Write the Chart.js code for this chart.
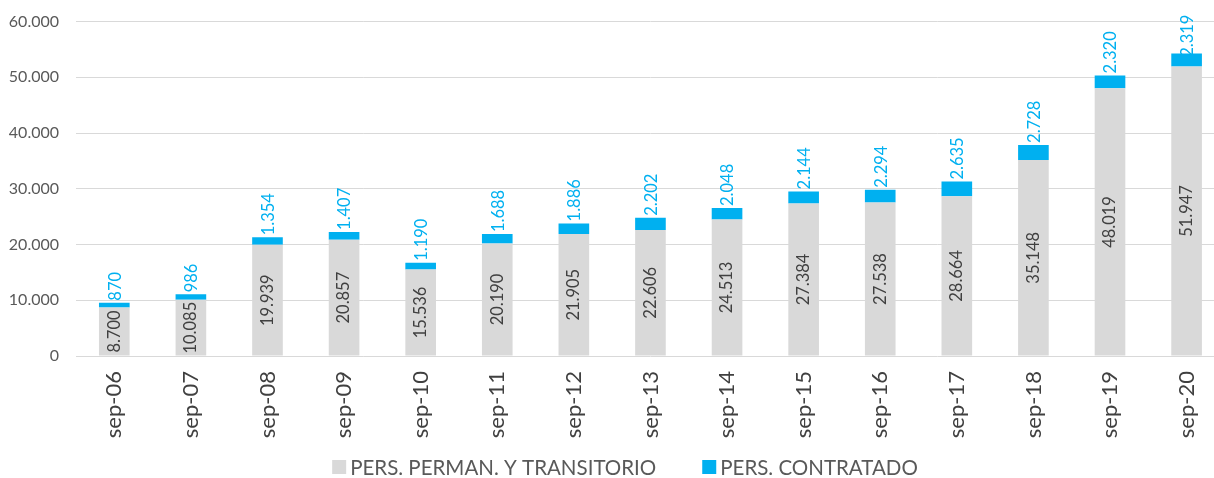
<!DOCTYPE html>
<html>
<head>
<meta charset="utf-8">
<script src="https://cdn.jsdelivr.net/npm/chart.js@4.4.0/dist/chart.umd.min.js"></script>
<style>
  html, body { margin: 0; padding: 0; background: #ffffff; overflow: hidden; }
  #wrap { width: 1228px; height: 483px; position: relative; margin-top: -5px; }
</style>
</head>
<body>
<div id="wrap"><canvas id="c"></canvas></div>
<script>
const categories = ['sep-06','sep-07','sep-08','sep-09','sep-10','sep-11','sep-12','sep-13','sep-14','sep-15','sep-16','sep-17','sep-18','sep-19','sep-20'];
const permanente = [8700, 10085, 19939, 20857, 15536, 20190, 21905, 22606, 24513, 27384, 27538, 28664, 35148, 48019, 51947];
const contratado = [870, 986, 1354, 1407, 1190, 1688, 1886, 2202, 2048, 2144, 2294, 2635, 2728, 2320, 2319];
const seriesNames = ['PERS. PERMAN. Y TRANSITORIO', 'PERS. CONTRATADO'];
const yTicks = [0, 10000, 20000, 30000, 40000, 50000, 60000];

const FONT = 'Lato, "Liberation Sans", sans-serif';
const GRAY = '#D9D9D9';
const BLUE = '#00B0F0';

function fmt(n) {
  return String(n).replace(/\B(?=(\d{3})+(?!\d))/g, '.');
}

const labelPlugin = {
  id: 'barLabels',
  afterDatasetsDraw(chart) {
    const ctx = chart.ctx;
    const top = chart.chartArea.top;
    ctx.save();
    ctx.font = '16.5px ' + FONT;
    ctx.textBaseline = 'middle';
    chart.getDatasetMeta(0).data.forEach((el, i) => {
      const cy = (el.y + el.base) / 2;
      ctx.save();
      ctx.translate(el.x, cy);
      ctx.rotate(-Math.PI / 2);
      ctx.textAlign = 'center';
      ctx.fillStyle = '#404040';
      ctx.fillText(fmt(permanente[i]), 0, 0);
      ctx.restore();
    });
    chart.getDatasetMeta(1).data.forEach((el, i) => {
      const txt = fmt(contratado[i]);
      const w = ctx.measureText(txt).width;
      let start = el.y - 2;
      if (start - w < top - 7) start = top - 7 + w;
      ctx.save();
      ctx.translate(el.x + 1, start);
      ctx.rotate(-Math.PI / 2);
      ctx.textAlign = 'left';
      ctx.fillStyle = BLUE;
      ctx.fillText(txt, 0, 0);
      ctx.restore();
    });
    ctx.restore();
  }
};

const legendPlugin = {
  id: 'customLegend',
  afterDraw(chart) {
    const ctx = chart.ctx;
    const colors = [GRAY, BLUE];
    const box = 14, gap = 4, spacing = 46;
    ctx.save();
    ctx.font = '20.5px ' + FONT;
    ctx.textBaseline = 'middle';
    const widths = seriesNames.map(s => ctx.measureText(s).width);
    let total = 0;
    widths.forEach((w, i) => { total += box + gap + w + (i ? spacing : 0); });
    let x = 625 - total / 2;
    const y = 472;
    seriesNames.forEach((s, i) => {
      ctx.fillStyle = colors[i];
      ctx.fillRect(x, y - box / 2, box, box);
      ctx.fillStyle = '#595959';
      ctx.textAlign = 'left';
      ctx.fillText(s, x + box + gap, y + 1);
      x += box + gap + widths[i] + spacing;
    });
    ctx.restore();
  }
};

new Chart(document.getElementById('c'), {
  type: 'bar',
  data: {
    labels: categories,
    datasets: [
      { label: seriesNames[0], data: permanente, backgroundColor: GRAY, borderWidth: 0 },
      { label: seriesNames[1], data: contratado, backgroundColor: BLUE, borderWidth: 0 }
    ]
  },
  options: {
    responsive: true,
    maintainAspectRatio: false,
    animation: false,
    layout: { padding: { top: 6, left: 0, right: 0, bottom: 40 } },
    datasets: { bar: { categoryPercentage: 1, barPercentage: 0.4 } },
    scales: {
      x: {
        stacked: true,
        grid: { display: false, drawTicks: false },
        border: { display: false },
        ticks: {
          color: '#404040',
          font: { family: FONT, size: 22 },
          minRotation: 90, maxRotation: 90,
          padding: 15
        },
        afterFit(scale) { scale.height = 82; }
      },
      y: {
        stacked: true,
        min: 0, max: 60000,
        afterBuildTicks(scale) { scale.ticks = yTicks.map(v => ({ value: v })); },
        grid: { color: GRAY, lineWidth: 1, drawTicks: false },
        border: { display: false },
        ticks: {
          color: '#595959',
          font: { family: FONT, size: 16 },
          padding: 17,
          callback: v => fmt(v)
        },
        afterFit(scale) { scale.width = 76; }
      }
    },
    plugins: {
      legend: { display: false },
      tooltip: { enabled: false }
    }
  },
  plugins: [labelPlugin, legendPlugin]
});
</script>
</body>
</html>
